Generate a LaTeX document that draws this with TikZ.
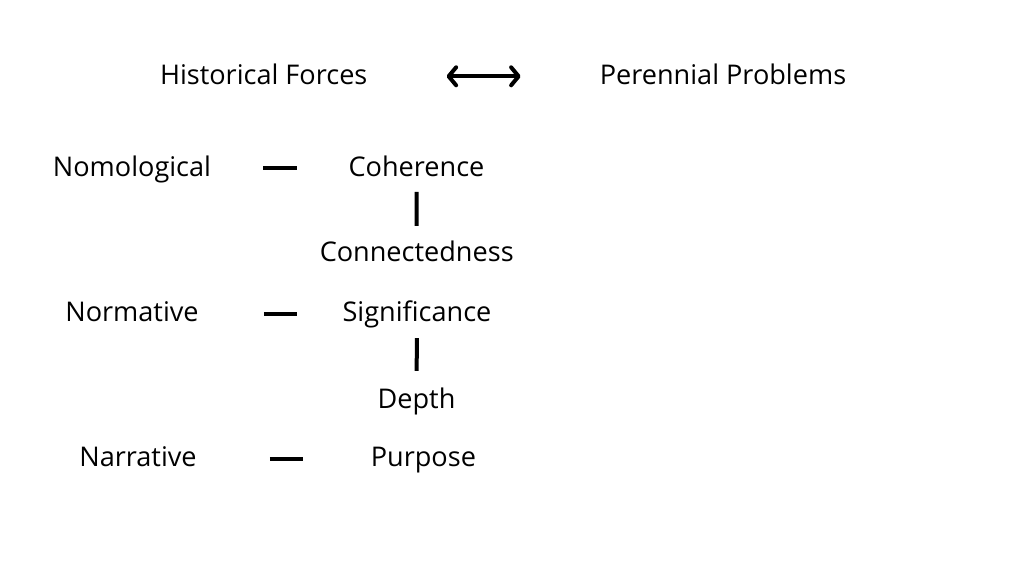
\documentclass[tikz,border=0pt]{standalone}
\usepackage{fontspec}
\setmainfont{Open Sans}
\usetikzlibrary{arrows.meta}

\begin{document}
\begin{tikzpicture}[x=1pt,y=-1pt,
		term/.style={anchor=base,inner sep=0pt,text height=20pt,text depth=4pt,font=\fontsize{27.1}{32}\selectfont},
		link/.style={line width=4pt},
		twoway/.style={line width=4pt,{Straight Barb[length=7.5pt,width=18pt,round]}-{Straight Barb[length=7.5pt,width=18pt,round]}}]
		\useasboundingbox[fill=white] (0,0) rectangle (1024,576);
		%\draw[help lines,step=50] (0,0) grid (1024,576);
		\node[term] (hist) at (263.7,84.3) {Historical Forces};
		\node[term] (pere) at (723,84.3) {Perennial Problems};
		\draw[twoway,yshift=5pt,shorten <=79pt,shorten >=79pt] (hist) -- (pere);

		\node[term] (nomo) at (132,176) {Nomological};
		\node[term] (coh) at (416.5,176) {Coherence};
		\node[term] (conn) at (416.7,261.7) {Connectedness};
		\draw[link,shorten <=52pt,shorten >=51pt] (nomo) -- (coh);
		\draw[link,shorten <=11.7pt,shorten >=15.7pt] (coh) -- (conn);

		\node[term] (norm) at (132,321.7) {Normative};
		\node[term] (sig) at (417,321.7) {Significance};
		\node[term] (dep) at (416.5,408.5) {Depth};
		\draw[link,shorten <=65pt,shorten >=45pt] (norm) -- (sig);
		\draw[link,shorten <=12.3pt,shorten >=17.5pt] (sig) -- (dep);

		\node[term] (narr) at (138,466.7) {Narrative};
		\node[term] (purp) at (423.4,466.7) {Purpose};
		\draw[link,shorten <=73pt,shorten >=68pt] (narr) -- (purp);
\end{tikzpicture}
\end{document}
